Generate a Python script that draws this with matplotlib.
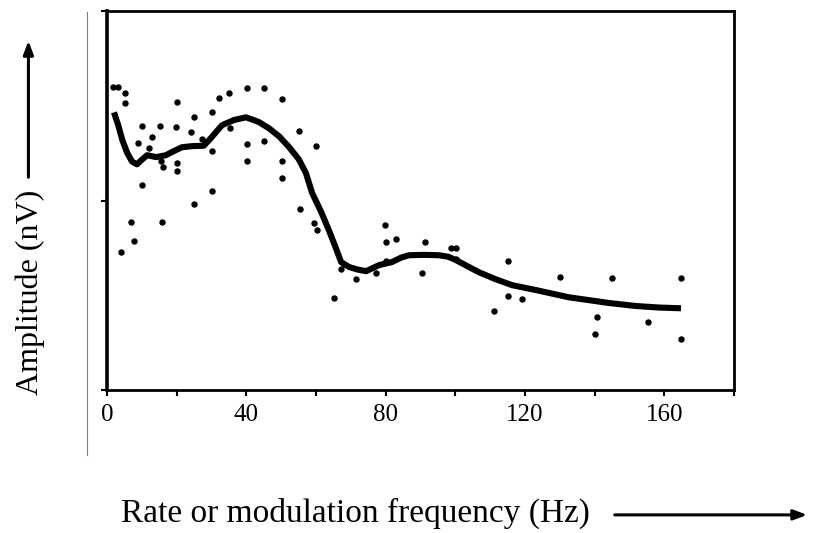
#!/usr/bin/env python3
"""Amplitude versus rate / modulation frequency, scanned-figure look."""
import matplotlib
matplotlib.use("Agg")
import matplotlib.pyplot as plt
from matplotlib.lines import Line2D

plt.rcParams['font.family'] = ['Liberation Serif', 'DejaVu Serif']

# scattered measurements (Hz, relative amplitude)
dot_hz = [1.7, 3.2, 5.2, 5.2, 20.1, 32.2, 35.0, 40.2, 45.1, 50.2,
          25.0, 30.1, 10.0, 15.2, 19.8, 24.1, 12.9, 8.9, 12.1, 27.3,
          30.1, 35.3, 40.2, 40.2, 45.1, 50.2, 50.2, 55.1, 60.0, 15.5,
          16.1, 20.1, 20.1, 10.0, 30.1, 4.0, 7.8, 6.9, 15.8, 25.0,
          55.4, 59.4, 60.3, 79.8, 80.1, 83.0, 91.3, 98.8, 100.2, 100.2,
          80.1, 77.2, 90.4, 67.2, 71.5, 65.2,
          115.1, 115.1, 119.2, 111.1, 130.1, 145.0, 164.8, 140.7, 140.1,
          155.3, 164.8]
dot_amp = [0.799, 0.799, 0.784, 0.757, 0.760, 0.770, 0.784, 0.797, 0.797, 0.768,
           0.720, 0.733, 0.697, 0.697, 0.694, 0.681, 0.668, 0.652, 0.639, 0.662,
           0.631, 0.691, 0.649, 0.604, 0.657, 0.604, 0.559, 0.683, 0.644, 0.604,
           0.588, 0.599, 0.578, 0.541, 0.525, 0.364, 0.393, 0.443, 0.443, 0.491,
           0.478, 0.441, 0.422, 0.435, 0.391, 0.398, 0.391, 0.375, 0.375, 0.346,
           0.340, 0.309, 0.309, 0.319, 0.293, 0.243,
           0.340, 0.248, 0.240, 0.208, 0.298, 0.296, 0.296, 0.193, 0.148,
           0.179, 0.135]

# smoothed trend curve
fit_hz = [2.0, 3.2, 4.4, 5.8, 7.2, 8.6, 10.0, 11.5, 14.1, 16.9,
          19.0, 21.5, 24.5, 27.8, 30.0, 33.0, 36.5, 39.9, 43.5, 46.5,
          49.5, 52.3, 55.0, 57.1, 58.9, 61.5, 63.7, 65.7, 67.2, 69.5,
          72.0, 74.4, 78.1, 81.8, 84.5, 86.7, 91.0, 95.3, 98.0, 100.2,
          103.5, 106.8, 111.5, 116.3, 123.2, 132.6, 144.1, 151.9, 158.5, 164.8]
fit_amp = [0.733, 0.700, 0.660, 0.626, 0.603, 0.596, 0.608, 0.620, 0.615, 0.620,
           0.630, 0.641, 0.644, 0.645, 0.667, 0.699, 0.713, 0.720, 0.708, 0.691,
           0.669, 0.641, 0.610, 0.573, 0.520, 0.470, 0.422, 0.375, 0.338, 0.325,
           0.318, 0.314, 0.330, 0.338, 0.350, 0.356, 0.357, 0.356, 0.352, 0.343,
           0.327, 0.311, 0.293, 0.277, 0.264, 0.245, 0.230, 0.222, 0.218, 0.216]

x_ticks = [0, 20, 40, 60, 80, 100, 120, 140, 160, 180]
x_labels = ['0', '', '40', '', '80', '', '120', '', '160', '']

fig = plt.figure(figsize=(8.36, 5.33), dpi=100)
axis = fig.add_axes([0.128, 0.268, 0.750, 0.711])

axis.plot(fit_hz, fit_amp, color='black', lw=4.4, solid_capstyle='butt',
          solid_joinstyle='round')
axis.plot(dot_hz, dot_amp, 'o', color='black', ms=3.6, mec='black')

axis.set_xlim(0, 180)
axis.set_ylim(0, 1)
axis.set_xticks(x_ticks)
axis.set_xticklabels(x_labels, fontsize=18)
axis.set_yticks([0, 0.5, 1.0])
axis.set_yticklabels([])
axis.tick_params(direction='out', length=4, width=1.5, color='black', pad=6)
for side in ['left', 'bottom', 'right', 'top']:
    axis.spines[side].set_linewidth(2.0)
axis.spines['left'].set_linewidth(2.6)

fig.text(0.036, 0.452, 'Amplitude (nV)', rotation=90, fontsize=23,
         ha='center', va='center')
fig.text(0.425, 0.037, 'Rate or modulation frequency (Hz)', fontsize=24,
         ha='center', va='center')
fig.patches.append(matplotlib.patches.FancyArrowPatch(
    (0.034, 1 - 180 / 533), (0.034, 1 - 38 / 533), transform=fig.transFigure,
    arrowstyle='-|>,head_length=8,head_width=3', lw=2.2, color='black'))
fig.patches.append(matplotlib.patches.FancyArrowPatch(
    (612 / 836, 0.034), (810 / 836, 0.034), transform=fig.transFigure,
    arrowstyle='-|>,head_length=8,head_width=3', lw=2.2, color='black'))

# faint scan line left of the frame
fig.lines.append(Line2D([87 / 836, 87 / 836], [1 - 455 / 533, 1 - 12 / 533],
                        transform=fig.transFigure, color='gray', lw=0.8))

fig.savefig("out.png")
plt.close()
